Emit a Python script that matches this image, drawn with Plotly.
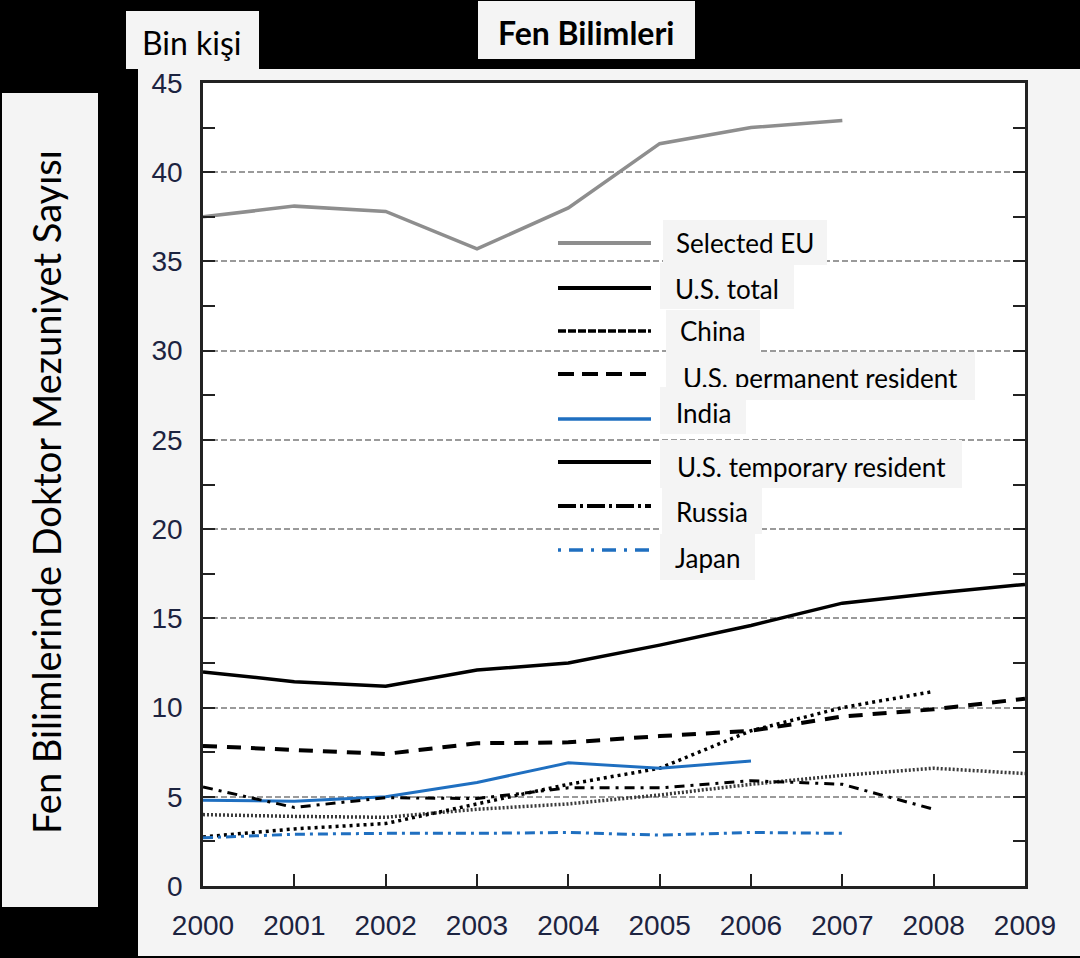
import plotly.graph_objects as go

# ---------------- data ----------------
years = [2000, 2001, 2002, 2003, 2004, 2005, 2006, 2007, 2008, 2009]
selected_eu = [37.5, 38.1, 37.8, 35.7, 38.0, 41.6, 42.5, 42.9, None, None]
us_total = [12.0, 11.45, 11.2, 12.1, 12.5, 13.5, 14.6, 15.85, 16.4, 16.9]
china = [2.75, 3.2, 3.5, 4.6, 5.7, 6.6, 8.7, 10.0, 10.9, None]
us_permanent = [7.85, 7.65, 7.4, 8.0, 8.05, 8.4, 8.7, 9.5, 9.9, 10.5]
india = [4.8, 4.75, 5.0, 5.8, 6.9, 6.6, 7.0, None, None, None]
us_temporary = [4.0, 3.9, 3.85, 4.3, 4.6, 5.1, 5.7, 6.2, 6.6, 6.3]
russia = [5.55, 4.4, 4.95, 4.9, 5.5, 5.5, 5.9, 5.7, 4.3, None]
japan = [2.7, 2.9, 2.95, 2.95, 3.0, 2.85, 3.0, 2.95, None, None]

legend_labels = ["Selected EU", "U.S. total", "China", "U.S. permanent resident",
                 "India", "U.S. temporary resident", "Russia", "Japan"]
y_tick_vals = [0, 5, 10, 15, 20, 25, 30, 35, 40, 45]
title_text = "Fen Bilimleri"
unit_text = "Bin kişi"
y_title_text = "Fen Bilimlerinde Doktor Mezuniyet Sayısı"

# ---------------- styles ----------------
BLUE = "#1f6fc0"
GRAY_EU = "#8e8e8e"
BOX = "#f4f4f4"
TICKFONT = dict(family="Liberation Sans, Arial, sans-serif", size=28, color="#1c2340")
TEXTFONT = "Lato, 'Open Sans', sans-serif"

W, H = 1080, 958
L, R, T, B = 203, 1025, 83, 886


def px(xp):
    return (xp - L) / (R - L)


def py(yp):
    return (B - yp) / (B - T)


fig = go.Figure()

series = [
    (selected_eu, dict(color=GRAY_EU, width=3.5)),
    (us_total, dict(color="black", width=3.5)),
    (us_permanent, dict(color="black", width=4, dash="14px,10px")),
    (us_temporary, dict(color="#3a3a3a", width=3.5, dash="2px,2px")),
    (china, dict(color="black", width=3.5, dash="3px,4px")),
    (india, dict(color=BLUE, width=3)),
    (russia, dict(color="black", width=3, dash="10px,6px,3px,6px")),
    (japan, dict(color=BLUE, width=3, dash="10px,5px,3px,5px")),
]
names = ["Selected EU", "U.S. total", "U.S. permanent resident", "U.S. temporary resident",
         "China", "India", "Russia", "Japan"]
for (vals, line), nm in zip(series, names):
    fig.add_trace(go.Scatter(x=years, y=vals, mode="lines", name=nm, line=line,
                             showlegend=False, connectgaps=False, hoverinfo="x+y+name"))

shapes = []
# outer light box around the chart
shapes.append(dict(type="rect", xref="paper", yref="paper", x0=px(138), x1=px(1082),
                   y0=py(956), y1=py(69), fillcolor=BOX, line=dict(width=0), layer="below"))
# white plotting area
shapes.append(dict(type="rect", xref="paper", yref="paper", x0=0, x1=1, y0=0, y1=1,
                   fillcolor="white", line=dict(width=0), layer="below"))
# title boxes
shapes.append(dict(type="rect", xref="paper", yref="paper", x0=px(126), x1=px(259),
                   y0=py(69), y1=py(11), fillcolor=BOX, line=dict(width=0), layer="below"))
shapes.append(dict(type="rect", xref="paper", yref="paper", x0=px(478), x1=px(695),
                   y0=py(59), y1=py(1), fillcolor=BOX, line=dict(width=0), layer="below"))
shapes.append(dict(type="rect", xref="paper", yref="paper", x0=px(2), x1=px(98),
                   y0=py(907), y1=py(93), fillcolor=BOX, line=dict(width=0), layer="below"))
# white area behind the legend (hides gridlines)
shapes.append(dict(type="rect", xref="paper", yref="paper", x0=px(548), x1=px(980),
                   y0=py(585), y1=py(215), fillcolor="white", line=dict(width=0), layer="between"))

# legend samples
legend_rows = [
    (243, dict(color=GRAY_EU, width=4)),
    (288, dict(color="black", width=4)),
    (331, dict(color="black", width=3.5, dash="8px,2px")),
    (374, dict(color="black", width=4, dash="16px,8px")),
    (419, dict(color=BLUE, width=3.5)),
    (462, dict(color="black", width=4)),
    (506, dict(color="black", width=4, dash="18px,4px,3px,4px")),
    (550, dict(color=BLUE, width=3.5, dash="3px,8px,14px,8px")),
]
for yy, ln in legend_rows:
    shapes.append(dict(type="line", xref="paper", yref="paper", x0=px(558), x1=px(651),
                       y0=py(yy), y1=py(yy), line=ln, layer="above"))

annotations = []
# legend text boxes: (x0, x1, ytop, ybottom)
legend_boxes = [
    (663, 827, 220, 265),
    (660, 794, 263, 309),
    (666, 760, 310, 352),
    (666, 975, 352, 400),
    (660, 746, 387, 434),
    (660, 962, 440, 488),
    (662, 762, 488, 534),
    (660, 755, 534, 580),
]
text_centers = [243, 289, 331, 378, 413, 467, 512, 558]
for lab, (x0, x1, yt, yb), yc in zip(legend_labels, legend_boxes, text_centers):
    annotations.append(dict(
        xref="paper", yref="paper", x=px(x0), y=py(yt), xanchor="left", yanchor="top",
        width=x1 - x0, height=yb - yt, bgcolor=BOX, borderpad=0, borderwidth=0,
        text="", showarrow=False))
    annotations.append(dict(
        xref="paper", yref="paper", x=px((x0 + x1) / 2), y=py(yc), xanchor="center",
        yanchor="middle", text=lab, showarrow=False,
        font=dict(family=TEXTFONT, size=26, color="black")))
# India box drawn again above the permanent resident text (overlap as in the original)
annotations.append(dict(
    xref="paper", yref="paper", x=px(660), y=py(387), xanchor="left", yanchor="top",
    width=86, height=47, bgcolor=BOX, borderpad=0, borderwidth=0, text="", showarrow=False))
annotations.append(dict(
    xref="paper", yref="paper", x=px(703), y=py(413), xanchor="center", yanchor="middle",
    text="India", showarrow=False, font=dict(family=TEXTFONT, size=26, color="black")))

annotations.append(dict(xref="paper", yref="paper", x=px(192), y=py(42), text=unit_text,
                        showarrow=False, xanchor="center", yanchor="middle",
                        font=dict(family=TEXTFONT, size=32, color="black")))
annotations.append(dict(xref="paper", yref="paper", x=px(586), y=py(33),
                        text="<b>" + title_text + "</b>",
                        showarrow=False, xanchor="center", yanchor="middle",
                        font=dict(family=TEXTFONT, size=32, color="black")))
annotations.append(dict(xref="paper", yref="paper", x=px(46), y=py(492), text=y_title_text,
                        textangle=-90, showarrow=False, xanchor="center", yanchor="middle",
                        font=dict(family=TEXTFONT, size=38, color="black")))

fig.update_layout(
    width=W, height=H,
    margin=dict(l=L, r=W - R, t=T, b=H - B, pad=0),
    paper_bgcolor="black",
    plot_bgcolor="white",
    showlegend=False,
    shapes=shapes,
    annotations=annotations,
)

fig.update_xaxes(
    range=[2000, 2009], tickmode="array", tickvals=years, ticktext=[str(y) for y in years],
    ticks="inside", ticklen=12, tickwidth=2, tickcolor="#222222",
    showline=True, linecolor="#222222", linewidth=2.5, mirror=True,
    showgrid=False, zeroline=False, tickfont=TICKFONT, ticklabelstandoff=13,
)
fig.update_yaxes(
    range=[0, 45], tickmode="array", tickvals=y_tick_vals,
    ticktext=[str(v) for v in y_tick_vals],
    ticks="inside", ticklen=12, tickwidth=2, tickcolor="rgba(0,0,0,0)",
    minor=dict(ticks="inside", ticklen=12, tickwidth=2, tickcolor="#222222", dtick=2.5,
               tick0=0, showgrid=False),
    showline=True, linecolor="#222222", linewidth=2.5, mirror="ticks",
    showgrid=True, gridcolor="#9a9a9a", gridwidth=1.5, griddash="6px,3px",
    zeroline=False, tickfont=TICKFONT, ticklabelstandoff=12,
)

fig.write_html("out.html")
